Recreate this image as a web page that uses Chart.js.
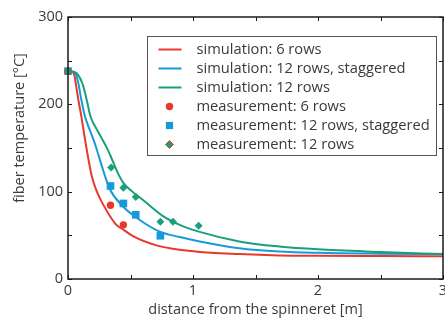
<!DOCTYPE html>
<html>
<head>
<meta charset="utf-8">
<script src="https://cdn.jsdelivr.net/npm/chart.js@4.4.1/dist/chart.umd.min.js"></script>
<style>
  html, body { margin: 0; padding: 0; background: #fff; }
  #wrap { width: 445px; height: 320px; }
</style>
</head>
<body>
<div id="wrap"><canvas id="c" width="445" height="320"></canvas></div>
<script>
// Simulated fiber temperature along the spinline
const sim6X  = [0, 0.025, 0.048, 0.062, 0.083, 0.107, 0.128, 0.15, 0.174, 0.19, 0.22, 0.25, 0.286, 0.34, 0.387, 0.443, 0.52, 0.707, 0.894, 1.054, 1.37, 1.69, 2.0, 2.5, 3.0];
const sim6T  = [238, 237.5, 235, 224, 205, 186, 167, 148, 129, 118, 104, 94, 84, 71, 62, 56.5, 49, 38.5, 33.4, 31, 28.5, 27, 26.5, 26.2, 26];
const sim12sX = [0, 0.03, 0.062, 0.083, 0.107, 0.134, 0.16, 0.195, 0.222, 0.25, 0.28, 0.334, 0.44, 0.574, 0.734, 0.894, 1.054, 1.37, 1.69, 2.0, 2.5, 3.0];
const sim12sT = [238, 237.5, 235, 224, 205, 187, 176, 163, 152, 139, 125, 103, 83, 67.6, 54.3, 48, 43, 35.3, 31.5, 30, 29, 28.5];
const sim12X = [0, 0.04, 0.075, 0.115, 0.15, 0.18, 0.216, 0.27, 0.315, 0.355, 0.4, 0.443, 0.49, 0.542, 0.6, 0.76, 0.894, 1.054, 1.37, 1.69, 2.0, 2.5, 3.0];
const sim12T = [238, 237.5, 235, 224, 205, 186, 175, 161, 149, 136, 121, 110, 103, 97, 90.4, 72, 62, 54, 43, 37.2, 34, 31, 28.5];

// Measured fiber temperatures
const meas6X  = [0, 0.34, 0.443];
const meas6T  = [238, 84.5, 62];
const meas12sX = [0, 0.34, 0.443, 0.542, 0.739];
const meas12sT = [238, 106.5, 86.5, 73.5, 49.5];
const meas12X = [0, 0.345, 0.443, 0.542, 0.739, 0.84, 1.045];
const meas12T = [238, 127.7, 104.4, 93.8, 65.6, 65.6, 61];

// Axis ticks
const xTicks = [0, 1, 2, 3];
const xMinor = [0.5, 1.5, 2.5];
const yTicks = [0, 100, 200, 300];
const yMinor = [50, 150, 250];

const labels = [
  'simulation: 6 rows',
  'simulation: 12 rows, staggered',
  'simulation: 12 rows',
  'measurement: 6 rows',
  'measurement: 12 rows, staggered',
  'measurement: 12 rows'
];

const RED = '#e8382e', BLUE = '#159bd7', GREEN = '#18a07b';
const FONT = '"Open Sans", "Noto Sans", sans-serif';
const TXT = '#3a3a3a';

const pts = (xs, ys) => xs.map((x, i) => ({ x, y: ys[i] }));

const lineDs = (label, xs, ys, color, order) => ({
  type: 'line', label, data: pts(xs, ys), borderColor: color, backgroundColor: color,
  borderWidth: 2, pointRadius: 0, fill: false, cubicInterpolationMode: 'monotone',
  showLine: true, clip: false, order, _kind: 'line'
});
const markDs = (label, xs, ys, color, style, r, order) => ({
  type: 'scatter', label, data: pts(xs, ys), borderColor: color, backgroundColor: color,
  pointStyle: style, pointRadius: r, pointBorderWidth: 0, showLine: false, clip: false,
  order, _kind: 'mark'
});

const datasets = [
  lineDs(labels[0], sim6X, sim6T, RED, 5),
  lineDs(labels[1], sim12sX, sim12sT, BLUE, 4),
  lineDs(labels[2], sim12X, sim12T, GREEN, 3),
  markDs(labels[3], meas6X, meas6T, RED, 'circle', 3.7, 1),
  markDs(labels[4], meas12sX, meas12sT, BLUE, 'rect', 5.4, 2),
  markDs(labels[5], meas12X, meas12T, GREEN, 'rectRot', 4, 0)
];

// Frame with inward ticks on all four sides, axis titles and boxed legend
const decor = {
  id: 'decor',
  afterDatasetsDraw(chart) {
    const { ctx, chartArea: a, scales: { x, y } } = chart;
    ctx.save();
    ctx.strokeStyle = '#1a1a1a';
    ctx.lineWidth = 1.5;
    ctx.strokeRect(a.left, a.top, a.right - a.left, a.bottom - a.top);
    ctx.lineWidth = 1;
    const tl = 4;
    ctx.beginPath();
    xTicks.concat(xMinor).forEach(v => {
      const px = Math.round(x.getPixelForValue(v)) + 0.5;
      ctx.moveTo(px, a.bottom); ctx.lineTo(px, a.bottom - tl);
      ctx.moveTo(px, a.top); ctx.lineTo(px, a.top + tl);
    });
    yTicks.concat(yMinor).forEach(v => {
      const py = Math.round(y.getPixelForValue(v)) + 0.5;
      ctx.moveTo(a.left, py); ctx.lineTo(a.left + tl, py);
      ctx.moveTo(a.right, py); ctx.lineTo(a.right - tl, py);
    });
    ctx.stroke();

    // axis titles
    ctx.fillStyle = TXT;
    ctx.font = '14.5px ' + FONT;
    ctx.textAlign = 'center';
    ctx.textBaseline = 'middle';
    ctx.fillText('distance from the spinneret [m]', (a.left + a.right) / 2, 310);
    ctx.save();
    ctx.translate(20, 128);
    ctx.rotate(-Math.PI / 2);
    ctx.fillText('fiber temperature [°C]', 0, 0);
    ctx.restore();

    // legend
    const L = 147.5, T = 36.5, W = 289, H = 119;
    ctx.fillStyle = '#fff';
    ctx.fillRect(L, T, W, H);
    ctx.strokeStyle = '#555';
    ctx.lineWidth = 1;
    ctx.strokeRect(L, T, W, H);
    ctx.textAlign = 'left';
    ctx.font = '14.7px ' + FONT;
    chart.data.datasets.forEach((ds, i) => {
      const cy = T + 13 + i * 19;
      const cx = L + 22;
      ctx.fillStyle = ds.borderColor;
      ctx.strokeStyle = ds.borderColor;
      if (ds._kind === 'line') {
        ctx.lineWidth = 2;
        ctx.beginPath(); ctx.moveTo(L + 11, cy); ctx.lineTo(L + 34, cy); ctx.stroke();
      } else if (ds.pointStyle === 'circle') {
        ctx.beginPath(); ctx.arc(cx, cy, 3.7, 0, Math.PI * 2); ctx.fill();
      } else if (ds.pointStyle === 'rect') {
        ctx.fillRect(cx - 3.6, cy - 3.6, 7.2, 7.2);
      } else {
        ctx.beginPath();
        ctx.moveTo(cx, cy - 4); ctx.lineTo(cx + 4, cy); ctx.lineTo(cx, cy + 4); ctx.lineTo(cx - 4, cy);
        ctx.closePath(); ctx.fill();
        ctx.strokeStyle = RED; ctx.lineWidth = 1; ctx.stroke();
      }
      ctx.fillStyle = TXT;
      ctx.fillText(ds.label, L + 49, cy);
    });
    ctx.restore();
  }
};

new Chart(document.getElementById('c'), {
  data: { datasets },
  options: {
    responsive: false,
    devicePixelRatio: 1,
    animation: false,
    layout: { autoPadding: false, padding: { top: 17, right: 2, left: 0, bottom: 0 } },
    plugins: { legend: { display: false }, tooltip: { enabled: false } },
    scales: {
      x: {
        type: 'linear', min: 0, max: 3,
        grid: { display: false, drawTicks: false },
        border: { display: false },
        afterBuildTicks: s => { s.ticks = xTicks.map(v => ({ value: v })); },
        afterFit: s => { s.height = 41; s.paddingLeft = 0; s.paddingRight = 0; },
        ticks: { padding: 3, color: TXT, font: { family: FONT, size: 14.5 }, maxRotation: 0, autoSkip: false }
      },
      y: {
        type: 'linear', min: 0, max: 300,
        grid: { display: false, drawTicks: false },
        border: { display: false },
        afterBuildTicks: s => { s.ticks = yTicks.map(v => ({ value: v })); },
        afterFit: s => { s.width = 68; s.paddingTop = 0; s.paddingBottom = 0; },
        ticks: { padding: 5, color: TXT, font: { family: FONT, size: 14.5 } }
      }
    }
  },
  plugins: [decor]
});
</script>
</body>
</html>
